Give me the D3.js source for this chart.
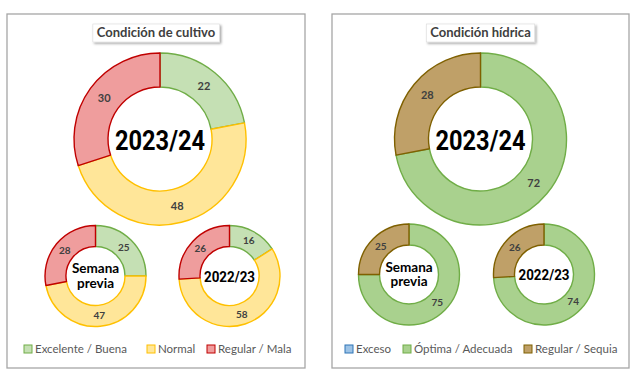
<!DOCTYPE html>
<html><head><meta charset="utf-8">
<script src="https://cdn.jsdelivr.net/npm/d3@7"></script>
<style>body{margin:0;background:#fff}svg{display:block}</style>
</head><body>
<svg id="c" width="640" height="380"></svg>
<script>
const panelTitles = ["Condición de cultivo", "Condición hídrica"];
const donutNames = ["2023/24", "Semana previa", "2022/23"];
const cropCategories = ["Excelente / Buena", "Normal", "Regular / Mala"];
const cropCurrent = [22, 48, 30];
const cropPrevWeek = [25, 47, 28];
const cropLastYear = [16, 58, 26];
const waterCategories = ["Exceso", "Óptima / Adecuada", "Regular / Sequia"];
const waterCurrent = [0, 72, 28];
const waterPrevWeek = [0, 75, 25];
const waterLastYear = [0, 74, 26];

const cropFill = ["#c5e0b4", "#ffe699", "#ef9d9d"];
const cropStroke = ["#70ad47", "#ffc000", "#c00000"];
const waterFill = ["#9dc3e6", "#a9d18e", "#bfa068"];
const waterStroke = ["#2e75b6", "#70ad47", "#7f6000"];

const svg = d3.select("#c");
const defs = svg.append("defs");
const f = defs.append("filter").attr("id","sh").attr("x","-10%").attr("y","-20%").attr("width","130%").attr("height","160%");
f.append("feDropShadow").attr("dx",1.5).attr("dy",1.5).attr("stdDeviation",1.2).attr("flood-color","#000").attr("flood-opacity",0.35);

const panels = [
  {x:7, w:298, title:panelTitles[0], cats:cropCategories, sets:[cropCurrent,cropPrevWeek,cropLastYear], fill:cropFill, stroke:cropStroke,
   centers:[[160,139],[95.5,276],[229.5,276]], legendX:[24,147,207]},
  {x:332, w:297, title:panelTitles[1], cats:waterCategories, sets:[waterCurrent,waterPrevWeek,waterLastYear], fill:waterFill, stroke:waterStroke,
   centers:[[480.5,139],[409,274.5],[544,274.5]], legendX:[345,403,524]}
];

const pie = d3.pie().sort(null).value(d => d.v);
const radii = [[52, 86], [29.5, 50.5], [29.5, 50.5]];

panels.forEach(p => {
  const g = svg.append("g");
  g.append("rect").attr("x", p.x).attr("y", 14).attr("width", p.w).attr("height", 354)
    .attr("fill", "#fff").attr("stroke", "#a6a6a6").attr("stroke-width", 1.3);

  p.sets.forEach((vals, k) => {
    const [cx, cy] = p.centers[k];
    const [ri, ro] = radii[k];
    const data = vals.map((v, i) => ({v, i}));
    const arcs = pie(data);
    const arc = d3.arc().innerRadius(ri).outerRadius(ro);
    const dg = g.append("g").attr("transform", `translate(${cx},${cy})`);
    dg.selectAll("path").data(arcs.filter(a => a.data.v > 0)).join("path")
      .attr("d", arc).attr("fill", a => p.fill[a.data.i])
      .attr("stroke", a => p.stroke[a.data.i]).attr("stroke-width", 1.4).attr("stroke-linejoin","round");
    const lab = d3.arc().innerRadius((ri+ro)/2).outerRadius((ri+ro)/2);
    dg.selectAll("text.v").data(arcs.filter(a => a.data.v > 0)).join("text")
      .attr("class","v")
      .attr("transform", a => `translate(${lab.centroid(a)})`)
      .attr("text-anchor", "middle").attr("dy", "0.35em")
      .attr("font-family", "Lato").attr("font-weight", 700).attr("font-size", k === 0 ? 11 : 10)
      .attr("fill", "#404040").text(a => a.data.v);
    const name = donutNames[k];
    if (k === 0) {
      dg.append("text").attr("text-anchor","middle").attr("y", 11)
        .attr("font-family","Roboto").attr("font-weight",700).attr("font-size",28)
        .attr("textLength", 90).attr("lengthAdjust","spacingAndGlyphs")
        .attr("fill","#000").text(name);
    } else if (name.includes(" ")) {
      const parts = name.split(" ");
      const t = dg.append("text").attr("text-anchor","middle")
        .attr("font-family","Lato").attr("font-weight",700).attr("font-size",13.5).attr("fill","#000");
      t.append("tspan").attr("x",0).attr("y",-3).text(parts[0]);
      t.append("tspan").attr("x",0).attr("y",11.5).text(parts[1]);
    } else {
      dg.append("text").attr("text-anchor","middle").attr("y", 5.5)
        .attr("font-family","Roboto").attr("font-weight",700).attr("font-size",15.5)
        .attr("textLength", 51).attr("lengthAdjust","spacingAndGlyphs")
        .attr("fill","#000").text(name);
    }
  });

  const tcx = p.x + p.w / 2;
  const tt = g.append("text").attr("x", tcx).attr("y", 37).attr("text-anchor","middle")
    .attr("font-family","Lato").attr("font-weight",700).attr("font-size",13).attr("fill","#404040").text(p.title);
  const bb = tt.node().getBBox();
  g.insert("rect", function(){ return tt.node(); })
    .attr("x", bb.x - 4).attr("y", 24).attr("width", bb.width + 8).attr("height", 18)
    .attr("fill","#fff").attr("stroke","#d9d9d9").attr("stroke-width",0.6).attr("filter","url(#sh)");

  p.cats.forEach((c, i) => {
    const lx = p.legendX[i];
    g.append("rect").attr("x", lx).attr("y", 345).attr("width", 8).attr("height", 8)
      .attr("fill", p.fill[i]).attr("stroke", p.stroke[i]).attr("stroke-width", 1);
    g.append("text").attr("x", lx + 11).attr("y", 353).attr("font-family","Lato").attr("font-size",11.5)
      .attr("fill","#595959").text(c);
  });
});
</script>
</body></html>
